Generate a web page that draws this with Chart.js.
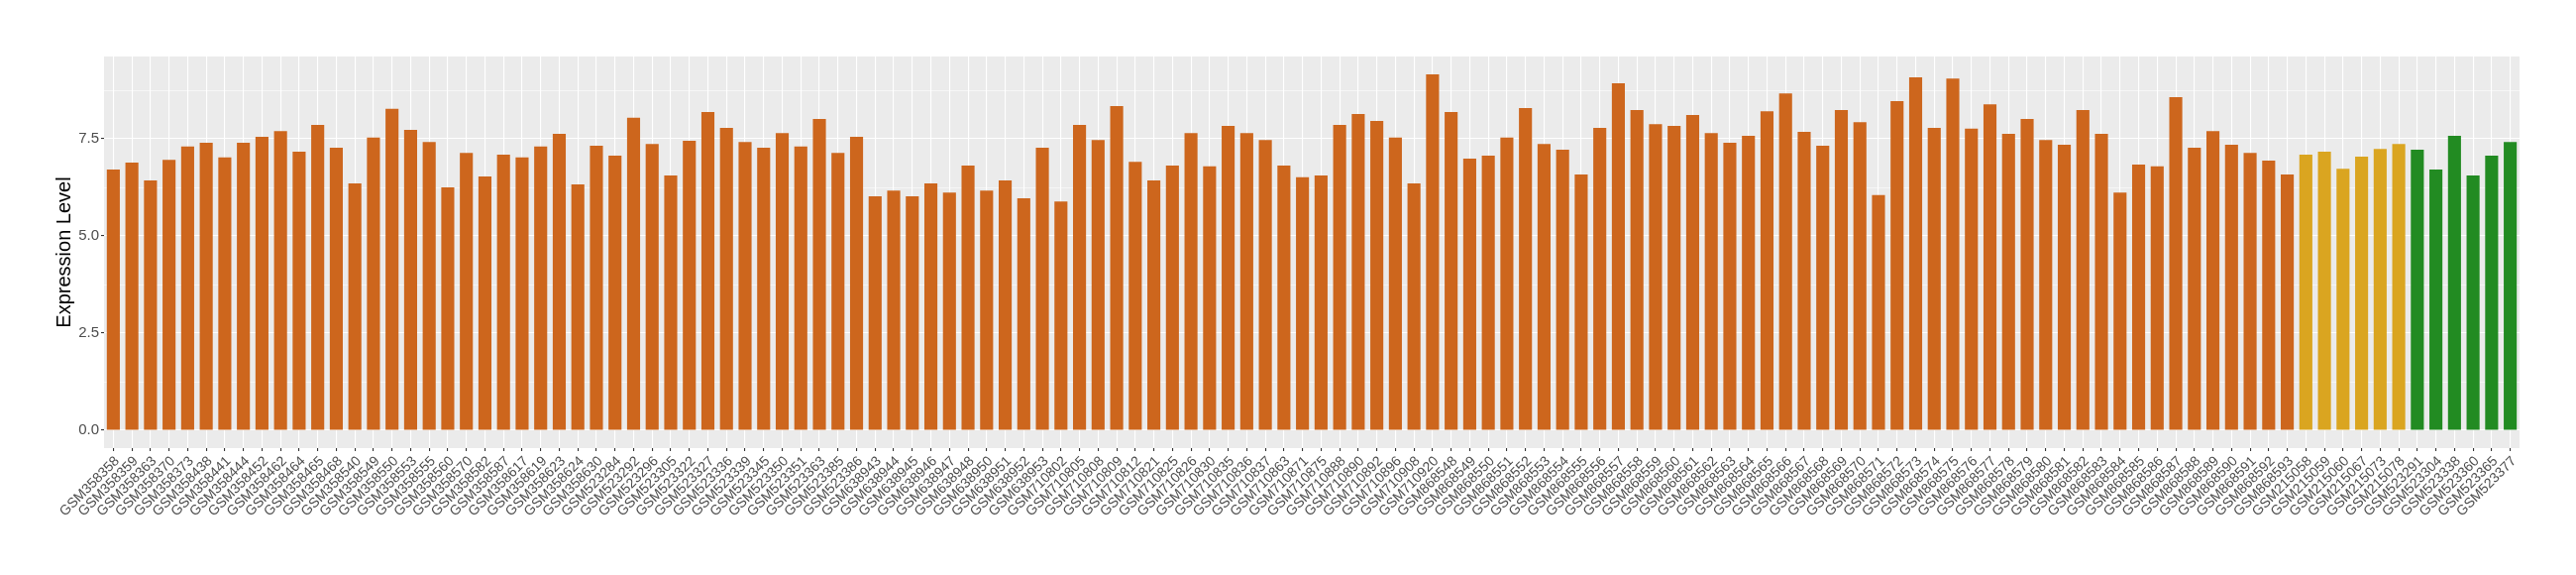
<!DOCTYPE html>
<html>
<head>
<meta charset="utf-8">
<script src="https://cdn.jsdelivr.net/npm/chart.js@4/dist/chart.umd.min.js"></script>
<style>
  html, body { margin: 0; padding: 0; background: #FFFFFF; }
  #wrap { width: 2600px; height: 580px; }
</style>
</head>
<body>
<div id="wrap"><canvas id="c" width="2600" height="580"></canvas></div>
<script>
// ---- Data ----
const samples = [
  "GSM358358","GSM358359","GSM358363","GSM358370","GSM358373","GSM358438","GSM358441","GSM358444","GSM358452","GSM358462",
  "GSM358464","GSM358465","GSM358468","GSM358540","GSM358549","GSM358550","GSM358553","GSM358555","GSM358560","GSM358570",
  "GSM358582","GSM358587","GSM358617","GSM358619","GSM358623","GSM358624","GSM358630",
  "GSM523284","GSM523292","GSM523296","GSM523305","GSM523322","GSM523327","GSM523336","GSM523339","GSM523345","GSM523350",
  "GSM523351","GSM523363","GSM523385","GSM523386",
  "GSM638943","GSM638944","GSM638945","GSM638946","GSM638947","GSM638948","GSM638950","GSM638951","GSM638952","GSM638953",
  "GSM710802","GSM710805","GSM710808","GSM710809","GSM710812","GSM710821","GSM710825","GSM710826","GSM710830","GSM710835",
  "GSM710836","GSM710837","GSM710863","GSM710871","GSM710875","GSM710888","GSM710890","GSM710892","GSM710896","GSM710908",
  "GSM710920",
  "GSM868548","GSM868549","GSM868550","GSM868551","GSM868552","GSM868553","GSM868554","GSM868555","GSM868556","GSM868557",
  "GSM868558","GSM868559","GSM868560","GSM868561","GSM868562","GSM868563","GSM868564","GSM868565","GSM868566","GSM868567",
  "GSM868568","GSM868569","GSM868570","GSM868571","GSM868572","GSM868573","GSM868574","GSM868575","GSM868576","GSM868577",
  "GSM868578","GSM868579","GSM868580","GSM868581","GSM868582","GSM868583","GSM868584","GSM868585","GSM868586","GSM868587",
  "GSM868588","GSM868589","GSM868590","GSM868591","GSM868592","GSM868593",
  "GSM215058","GSM215059","GSM215060","GSM215067","GSM215073","GSM215078",
  "GSM523291","GSM523304","GSM523338","GSM523360","GSM523365","GSM523377"
];

const expression = [
  6.71, 6.89, 6.43, 6.96, 7.30, 7.40, 7.02, 7.40, 7.55, 7.70, 7.17, 7.86, 7.27, 6.35, 7.53, 8.27, 7.73, 7.42, 6.25, 7.14, 6.53, 7.09,
  7.02, 7.30, 7.63, 6.33, 7.32, 7.07, 8.04, 7.37, 6.56, 7.45, 8.19, 7.78, 7.42, 7.27, 7.65, 7.30, 8.01, 7.14, 7.55, 6.02, 6.17,
  6.02, 6.35, 6.12, 6.81, 6.17, 6.43, 5.97, 7.27, 5.89, 7.86, 7.47, 8.34, 6.91, 6.43, 6.81, 7.65, 6.79, 7.83, 7.65, 7.47, 6.81, 6.51,
  6.56, 7.86, 8.14, 7.96, 7.53, 6.35, 9.16, 8.19, 6.99, 7.07, 7.53, 8.29, 7.37, 7.22, 6.58, 7.78, 8.93, 8.24, 7.88, 7.83, 8.11,
  7.65, 7.40, 7.58, 8.21, 8.67, 7.68, 7.32, 8.24, 7.93, 6.05, 8.47, 9.08, 7.78, 9.05, 7.76, 8.39, 7.63, 8.01, 7.47, 7.35, 8.24,
  7.63, 6.12, 6.84, 6.79, 8.57, 7.27, 7.70, 7.35, 7.14, 6.94, 6.58,
  7.09, 7.17, 6.73, 7.04, 7.24, 7.37,
  7.22, 6.71, 7.58, 6.56, 7.07, 7.42
];

// group of each sample (same order as samples)
const groupSizes = [118, 6, 6];
const groupNames = ["group1", "group2", "group3"];
const groupColors = ["#CD661D", "#DAA520", "#228B22"];

const yTickValues = [0, 1.25, 2.5, 3.75, 5, 6.25, 7.5, 8.75];
const yTickLabels = ["0.0", "", "2.5", "", "5.0", "", "7.5", ""];

// ---- Build ----
const groupOf = [];
groupSizes.forEach((n, g) => { for (let i = 0; i < n; i++) groupOf.push(g); });
const barColors = groupOf.map(g => groupColors[g]);

const dataMax = Math.max(...expression);
const yMax = dataMax * 1.05;
const yMin = -dataMax * 0.05;

const FONT = "'Liberation Sans', Arial, Helvetica, sans-serif";

const panelBg = {
  id: 'panelBg',
  beforeDraw(chart) {
    const { ctx, chartArea: a } = chart;
    ctx.save();
    ctx.fillStyle = '#FFFFFF';
    ctx.fillRect(0, 0, chart.width, chart.height);
    ctx.fillStyle = '#EBEBEB';
    ctx.fillRect(a.left, a.top, a.right - a.left, a.bottom - a.top);
    ctx.restore();
  }
};

new Chart(document.getElementById('c'), {
  type: 'bar',
  data: {
    labels: samples,
    datasets: [{
      data: expression,
      backgroundColor: barColors,
      borderWidth: 0,
      barPercentage: 0.7,
      categoryPercentage: 1.0
    }]
  },
  plugins: [panelBg],
  options: {
    responsive: false,
    animation: false,
    devicePixelRatio: 1,
    layout: { padding: { top: 57, right: 57, left: 0, bottom: 0 } },
    plugins: { legend: { display: false }, tooltip: { enabled: false } },
    scales: {
      x: {
        type: 'category',
        offset: true,
        border: { display: false },
        grid: {
          offset: false,
          color: '#FFFFFF',
          lineWidth: 1.1,
          drawTicks: true,
          tickLength: 3,
          tickColor: '#333333',
          tickWidth: 1.1
        },
        ticks: {
          autoSkip: false,
          maxRotation: 45,
          minRotation: 45,
          color: '#4D4D4D',
          padding: 2,
          labelOffset: 4,
          font: { family: FONT, size: 14 }
        },
        afterFit(s) { s.height = 128; }
      },
      y: {
        min: yMin,
        max: yMax,
        border: { display: false },
        afterBuildTicks(s) { s.ticks = yTickValues.map(v => ({ value: v })); },
        grid: {
          color: '#FFFFFF',
          lineWidth: (ctx) => (ctx.index % 2 === 0 ? 1.1 : 0.55),
          drawTicks: true,
          tickLength: 3,
          tickColor: (ctx) => (ctx.index % 2 === 0 ? '#333333' : 'rgba(0,0,0,0)'),
          tickWidth: 1.1
        },
        ticks: {
          color: '#4D4D4D',
          padding: 2,
          font: { family: FONT, size: 15 },
          callback: (v, i) => yTickLabels[i]
        },
        title: {
          display: true,
          text: 'Expression Level',
          color: '#000000',
          font: { family: FONT, size: 20 },
          padding: { top: 53, bottom: 0 }
        },
        afterFit(s) { s.width = 105; }
      }
    }
  }
});
</script>
</body>
</html>
